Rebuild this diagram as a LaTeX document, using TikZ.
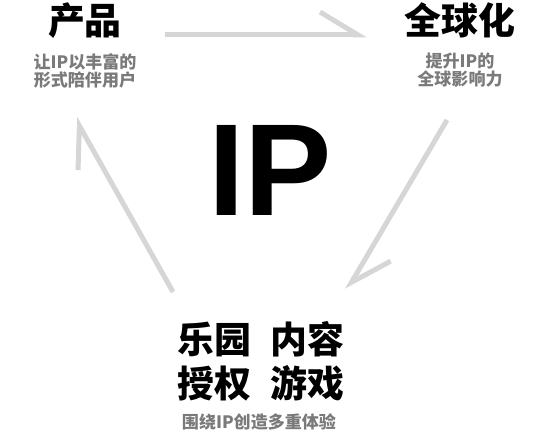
\documentclass[tikz,border=0pt]{standalone}
\usepackage{fontspec}
\setmainfont{Noto Sans CJK SC}
\newfontfamily\ipfont{Liberation Sans}
\usetikzlibrary{arrows.meta}
\definecolor{linegray}{HTML}{D6D6D6}
\definecolor{textgray}{HTML}{7A7A7A}
\begin{document}
\begin{tikzpicture}[x=0.2mm,y=-0.2mm,
  title/.style={font=\fontsize{21}{25}\selectfont\bfseries, align=center, inner sep=0pt},
  note/.style={font=\fontsize{9.7}{10.3}\selectfont\bfseries, text=textgray, align=center, inner sep=0pt},
  cycle/.style={draw=linegray, line width=1mm, -{Straight Barb[harpoon, length=7.6mm, width=9.2mm]}}]
\useasboundingbox (0,0) rectangle (550,434);
\node[title] (prod) at (85,21) {产品};
\node[note] (prodnote) at (85,71) {让IP以丰富的\\形式陪伴用户};
\node[title] (glob) at (460,20) {全球化};
\node[note] (globnote) at (460,70) {提升IP的\\全球影响力};
\node[font=\fontsize{74.5}{80}\selectfont\ipfont\bfseries, inner sep=0pt] (ip) at (270,170) {IP};
\node[title] (exp) at (261,361) {乐园\hspace{0.5em}内容\\授权\hspace{0.5em}游戏};
\node[note] (expnote) at (259,422) {围绕IP创造多重体验};
\coordinate (topa) at (165,35);
\coordinate (topb) at (367,35);
\coordinate (righta) at (447,120);
\coordinate (rightb) at (347,290);
\coordinate (lefta) at (173,292);
\coordinate (leftb) at (75,118);
\draw[cycle] (topa) -- (topb);
\draw[cycle] (righta) -- (rightb);
\draw[cycle] (lefta) -- (leftb);
\end{tikzpicture}
\end{document}
